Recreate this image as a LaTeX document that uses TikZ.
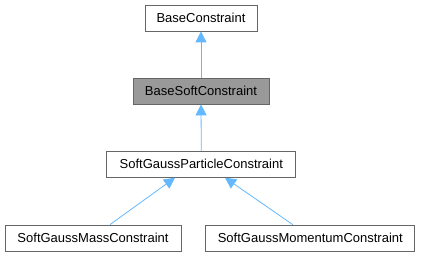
\documentclass[tikz,border=0pt]{standalone}
\usepackage{fontspec}
\setmainfont{Liberation Sans}
\usetikzlibrary{arrows.meta,calc}
\definecolor{edgeblue}{HTML}{63B8FF}
\definecolor{boxborder}{HTML}{666666}
\definecolor{grayfill}{HTML}{999999}
\begin{document}
\begin{tikzpicture}[x=1pt,y=1pt,
  cls/.style={draw=boxborder, fill=white, line width=0.8pt, minimum height=26pt, inner sep=0pt, font=\fontsize{13}{15}\selectfont},
  inh/.style={draw=edgeblue, line width=0.8pt, -{Triangle[length=11pt,width=11pt,fill=edgeblue]}}
]
\useasboundingbox (0,0) rectangle (421,256);
\node[cls, minimum width=112pt] (bc) at (201,238) {BaseConstraint};
\node[cls, minimum width=136pt, fill=grayfill] (bsc) at (201,165) {BaseSoftConstraint};
\node[cls, minimum width=189pt] (sgp) at (201.3,91.7) {SoftGaussParticleConstraint};
\node[cls, minimum width=176pt] (sgm) at (93,18) {SoftGaussMassConstraint};
\node[cls, minimum width=209pt] (sgmo) at (310.3,18) {SoftGaussMomentumConstraint};
\draw[inh] (bsc.north) -- (bc.south);
\draw[inh] (sgp.north) -- (bsc.south);
\draw[inh] ($(sgm.north)+(17,0)$) -- ($(sgp.south)+(-26.3,0)$);
\draw[inh] ($(sgmo.north)+(-17.6,0)$) -- ($(sgp.south)+(23.7,0)$);
\end{tikzpicture}
\end{document}
